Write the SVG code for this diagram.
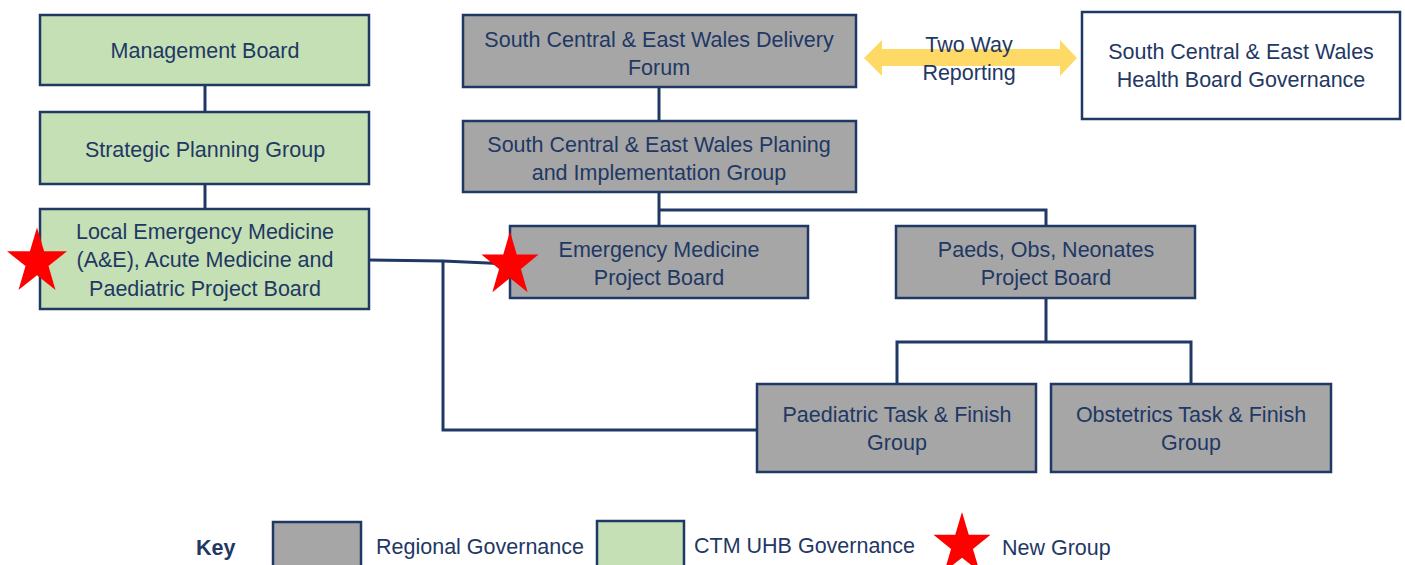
<svg xmlns="http://www.w3.org/2000/svg" width="1405" height="565" viewBox="0 0 1405 565">
<style>
.box{stroke:#1f3864;stroke-width:2.5}
.g{fill:#c5e0b4}
.r{fill:#a6a6a6}
.w{fill:#ffffff}
.t{font-family:"Liberation Sans",Arial,sans-serif;font-size:21.5px;fill:#1f3864;text-anchor:middle}
.k{font-family:"Liberation Sans",Arial,sans-serif;font-size:21.5px;fill:#1f3864}
.c{fill:none;stroke:#1f3864;stroke-width:3}
.star{fill:#ff0000}
</style>
<defs>
<path id="st" d="M0,-30 L6.76,-9.3 L28.53,-9.27 L10.94,3.55 L17.63,24.27 L0,11.5 L-17.63,24.27 L-10.94,3.55 L-28.53,-9.27 L-6.76,-9.3 Z"/>
</defs>
<rect width="1405" height="565" fill="#ffffff"/>
<g id="connectors">
<path class="c" d="M205,85 V112"/>
<path class="c" d="M205,184 V209"/>
<path class="c" d="M659,87 V121"/>
<path class="c" d="M659,192 V226 M659,210 H1046 V226"/>
<path class="c" d="M1046,298 V342 M897,384 V342 H1191 V384"/>
<path class="c" d="M369,260 L443,261 L512,264"/>
<path class="c" d="M443,261 V430 H757"/>
<path id="twoway" d="M864,58 L882,40 L882,49 L1060,49 L1060,40 L1077,58 L1060,76 L1060,66 L882,66 L882,76 Z" fill="#ffd966"/>
</g>
<g id="management-board"><rect class="box g" x="40" y="15" width="329" height="70"/><text class="t" x="205" y="58">Management Board</text></g>
<g id="strategic-planning"><rect class="box g" x="40" y="112" width="329" height="72"/><text class="t" x="205" y="157">Strategic Planning Group</text></g>
<g id="local-em"><rect class="box g" x="40" y="209" width="329" height="100"/><text class="t" x="205" y="239">Local Emergency Medicine</text><text class="t" x="205" y="267">(A&amp;E), Acute Medicine and</text><text class="t" x="205" y="296">Paediatric Project Board</text></g>
<g id="delivery-forum"><rect class="box r" x="463" y="15" width="393" height="72"/><text class="t" x="659" y="47">South Central &amp; East Wales Delivery</text><text class="t" x="659" y="75">Forum</text></g>
<g id="planning-group"><rect class="box r" x="463" y="121" width="393" height="71"/><text class="t" x="659" y="152">South Central &amp; East Wales Planing</text><text class="t" x="659" y="180">and Implementation Group</text></g>
<g id="em-project-board"><rect class="box r" x="510" y="226" width="298" height="72"/><text class="t" x="659" y="257">Emergency Medicine</text><text class="t" x="659" y="285">Project Board</text></g>
<g id="paeds-board"><rect class="box r" x="896" y="226" width="299" height="72"/><text class="t" x="1046" y="257">Paeds, Obs, Neonates</text><text class="t" x="1046" y="285">Project Board</text></g>
<g id="paediatric-tf"><rect class="box r" x="757" y="384" width="279" height="88"/><text class="t" x="897" y="422">Paediatric Task &amp; Finish</text><text class="t" x="897" y="450">Group</text></g>
<g id="obstetrics-tf"><rect class="box r" x="1051" y="384" width="280" height="88"/><text class="t" x="1191" y="422">Obstetrics Task &amp; Finish</text><text class="t" x="1191" y="450">Group</text></g>
<g id="health-board-gov"><rect class="box w" x="1082" y="12" width="318" height="107"/><text class="t" x="1241" y="59">South Central &amp; East Wales</text><text class="t" x="1241" y="87">Health Board Governance</text></g>
<g id="two-way-label"><text class="t" x="969" y="52">Two Way</text><text class="t" x="969" y="80">Reporting</text></g>
<g id="stars">
<use href="#st" class="star" transform="translate(37,262) scale(1.05,1.15)"/>
<use href="#st" class="star" transform="translate(510,265) scale(1.0,1.12)"/>
</g>
<g id="key">
<text class="k" x="196" y="555" font-weight="bold">Key</text>
<rect class="box r" x="273" y="522" width="88" height="50"/>
<text class="k" x="376" y="554">Regional Governance</text>
<rect class="box g" x="597" y="521" width="87" height="50"/>
<text class="k" x="694" y="553">CTM UHB Governance</text>
<use href="#st" class="star" transform="translate(962,545) scale(1.0,1.1)"/>
<text class="k" x="1002" y="555">New Group</text>
</g>
</svg>
